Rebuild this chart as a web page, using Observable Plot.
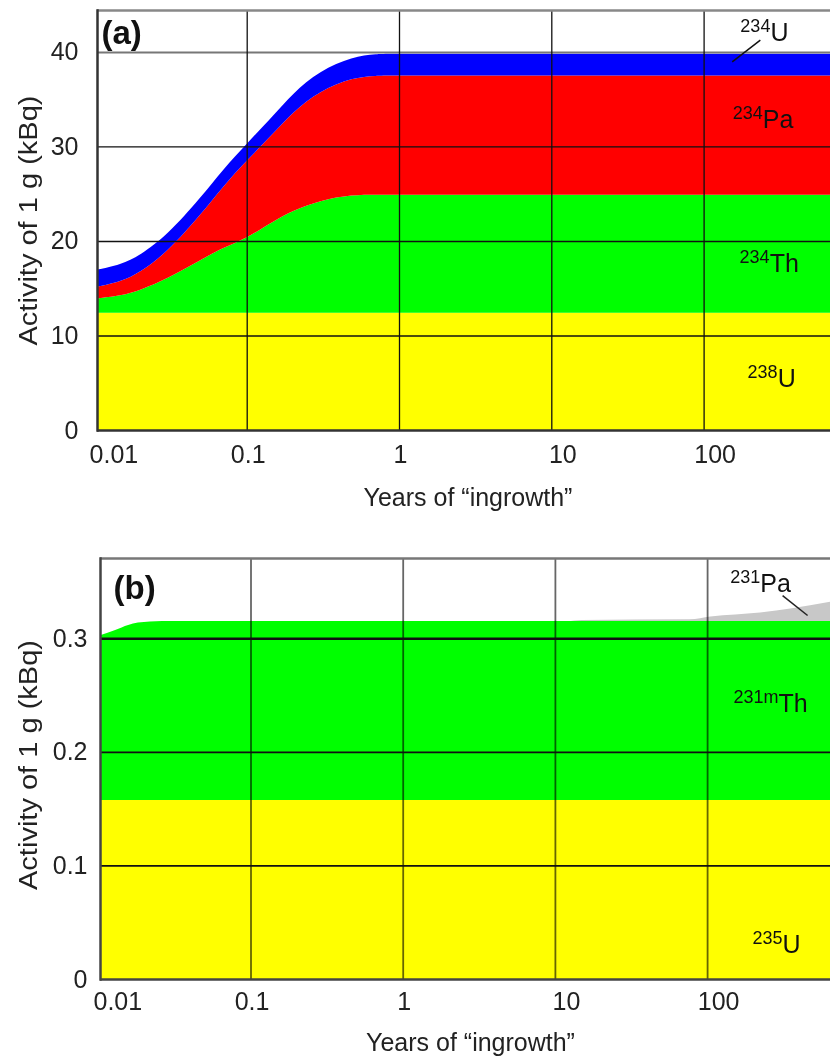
<!DOCTYPE html>
<html>
<head>
<meta charset="utf-8">
<script src="https://cdn.jsdelivr.net/npm/d3@7"></script>
<script src="https://cdn.jsdelivr.net/npm/@observablehq/plot@0.6"></script>
<style>
  html, body { margin: 0; padding: 0; background: #fff; }
  svg { display: block; }
</style>
</head>
<body>
<div id="chart"></div>
<script>
// ---------- Panel (a): 238U series ----------
const yearsA = [0.01, 0.015, 0.02, 0.03, 0.05, 0.07, 0.1, 0.15, 0.2, 0.3, 0.5, 0.7, 1, 10, 100, 1000];
const namesA = ["238U", "234Th", "234Pa", "234U"];
const a_U238  = [12.4, 12.4, 12.4, 12.4, 12.4, 12.4, 12.4, 12.4, 12.4, 12.4, 12.4, 12.4, 12.4, 12.4, 12.4, 12.4];
const a_Th234 = [1.5, 1.8, 2.4, 3.6, 5.6, 6.9, 7.9, 9.7, 10.8, 11.9, 12.5, 12.5, 12.5, 12.5, 12.5, 12.5];
const a_Pa234 = [1.2, 1.5, 1.9, 2.8, 4.8, 6.5, 8.2, 9.3, 10.4, 11.6, 12.4, 12.6, 12.6, 12.6, 12.6, 12.6];
const a_U234  = [1.8, 1.8, 1.8, 1.8, 1.8, 1.8, 1.8, 1.9, 2.0, 2.1, 2.2, 2.3, 2.3, 2.3, 2.3, 2.3];
const colorsA = ["#ffff00", "#00ff00", "#ff0000", "#0000ff"];
const yTicksA = [0, 10, 20, 30, 40];

// ---------- Panel (b): 235U series ----------
const yearsB = [0.01, 0.0129, 0.0157, 0.0182, 0.0262, 0.1, 1, 10, 12, 15, 77, 105, 223, 352, 642, 1000];
const namesB = ["235U", "231mTh", "231Pa"];
const b_U235  = [0.1576, 0.1576, 0.1576, 0.1576, 0.1576, 0.1576, 0.1576, 0.1576, 0.1576, 0.1576, 0.1576, 0.1576, 0.1576, 0.1576, 0.1576, 0.1576];
const b_Th231 = [0.1445, 0.1498, 0.1542, 0.1562, 0.1576, 0.1576, 0.1576, 0.1576, 0.1576, 0.1576, 0.1576, 0.1576, 0.1576, 0.1576, 0.1576, 0.1576];
const b_Pa231 = [0, 0, 0, 0, 0, 0, 0, 0, 0, 0.001, 0.0015, 0.004, 0.0075, 0.011, 0.017, 0.022];
const colorsB = ["#ffff00", "#00ff00", "#c8c8c8"];
const yTicksB = [0, 0.1, 0.2, 0.3];

const xTicks = [0.01, 0.1, 1, 10, 100];
const xTickLabels = ["0.01", "0.1", "1", "10", "100"];
const xTitle = "Years of \u201cingrowth\u201d";
const yTitle = "Activity of 1 g (kBq)";

const FONT = "Liberation Sans, Arial, Helvetica, sans-serif";
const FS = 25;

function longTable(years, names, series) {
  const rows = [];
  names.forEach((n, k) => years.forEach((x, i) => rows.push({year: x, nuclide: n, activity: series[k][i]})));
  return rows;
}

const rowsA = longTable(yearsA, namesA, [a_U238, a_Th234, a_Pa234, a_U234]);
const rowsB = longTable(yearsB, namesB, [b_U235, b_Th231, b_Pa231]);

function tickLabelMarks(dy) {
  const idx = xTicks.map((d, i) => i);
  const common = {x: i => xTicks[i], text: i => xTickLabels[i], frameAnchor: "bottom", lineAnchor: "middle", dy, fontSize: FS, fill: "#222"};
  return [
    Plot.text(idx.filter(i => xTicks[i] === 0.01), {...common, dx: 19}),
    Plot.text(idx.filter(i => xTicks[i] === 0.1 || xTicks[i] === 1), {...common, dx: 1}),
    Plot.text(idx.filter(i => xTicks[i] >= 10), {...common, dx: 11})
  ];
}

const yTopA = 44.44;
const plotA = Plot.plot({
  width: 830, height: 530,
  marginTop: 10, marginBottom: 100, marginLeft: 97, marginRight: 0,
  style: {fontFamily: FONT, background: "#fff"},
  x: {type: "log", domain: [0.0104, 676], axis: null},
  y: {domain: [0, yTopA], axis: null},
  color: {domain: namesA, range: colorsA},
  marks: [
    Plot.areaY(rowsA, {x: "year", y: "activity", z: "nuclide", fill: "nuclide", order: namesA, curve: "basis", clip: true}),
    Plot.ruleY([10, 20, 30], {stroke: "#111", strokeWidth: 1.3}),
    Plot.ruleY([40], {stroke: "#777", strokeWidth: 2}),
    Plot.ruleX([0.1, 1, 10, 100], {stroke: "#111", strokeWidth: 1.3}),
    Plot.ruleY([yTopA], {stroke: "#888", strokeWidth: 2.5}),
    Plot.frame({anchor: "left", stroke: "#333", strokeWidth: 2.5}),
    Plot.ruleY([0], {stroke: "#333", strokeWidth: 2.5}),
    Plot.text(yTicksA, {y: d => d, text: d => String(d), frameAnchor: "left", textAnchor: "end", dx: -19, fontSize: FS, fill: "#222"}),
    ...tickLabelMarks(24),
    Plot.text([xTitle], {frameAnchor: "bottom", lineAnchor: "middle", dy: 67, dx: 4, fontSize: FS, fill: "#222"}),
    Plot.text([yTitle], {frameAnchor: "left", lineAnchor: "middle", textAnchor: "start", rotate: -90, dx: -69, dy: 125, fontSize: FS, fill: "#222"}),
    Plot.text(["(a)"], {frameAnchor: "top-left", textAnchor: "start", lineAnchor: "middle", dx: 4, dy: 23, fontSize: 33, fontWeight: "bold", fill: "#111"}),
    Plot.link([{x1: 234, y1: 41.3, x2: 153, y2: 39.0}], {x1: "x1", y1: "y1", x2: "x2", y2: "y2", stroke: "#111", strokeWidth: 1.5}),
    Plot.text([
      {x: 173, y: 42.1, t: "234|U"},
      {x: 154, y: 32.9, t: "234|Pa"},
      {x: 171, y: 17.6, t: "234|Th"},
      {x: 193, y: 5.5, t: "238|U"}
    ], {x: "x", y: "y", text: "t", textAnchor: "start", fontSize: FS, fill: "#111"})
  ]
});

const yTopB = 0.3707;
const plotB = Plot.plot({
  width: 830, height: 529,
  marginTop: 28, marginBottom: 80, marginLeft: 100, marginRight: 0,
  style: {fontFamily: FONT, background: "#fff"},
  x: {type: "log", domain: [0.01026, 642], axis: null},
  y: {domain: [0, yTopB], axis: null},
  color: {domain: namesB, range: colorsB},
  marks: [
    Plot.areaY(rowsB, {x: "year", y: "activity", z: "nuclide", fill: "nuclide", order: namesB, curve: "monotone-x", clip: true}),
    Plot.ruleX([0.1, 1, 10, 100], {stroke: "#666", strokeWidth: 1.8, mixBlendMode: "multiply"}),
    Plot.ruleY([0.1, 0.2], {stroke: "#111", strokeWidth: 1.8}),
    Plot.ruleY([0.3], {stroke: "#111", strokeWidth: 2.5}),
    Plot.ruleY([yTopB], {stroke: "#777", strokeWidth: 2.5}),
    Plot.frame({anchor: "left", stroke: "#444", strokeWidth: 2.5}),
    Plot.ruleY([0], {stroke: "#444", strokeWidth: 2.5}),
    Plot.text(yTicksB, {y: d => d, text: d => String(d), frameAnchor: "left", textAnchor: "end", dx: -13, fontSize: FS, fill: "#222"}),
    ...tickLabelMarks(22),
    Plot.text([xTitle], {frameAnchor: "bottom", lineAnchor: "middle", dy: 63, dx: 5, fontSize: FS, fill: "#222"}),
    Plot.text([yTitle], {frameAnchor: "left", lineAnchor: "middle", textAnchor: "start", rotate: -90, dx: -72, dy: 121, fontSize: FS, fill: "#222"}),
    Plot.text(["(b)"], {frameAnchor: "top-left", textAnchor: "start", lineAnchor: "middle", dx: 13, dy: 30, fontSize: 33, fontWeight: "bold", fill: "#111"}),
    Plot.link([{x1: 311, y1: 0.338, x2: 454, y2: 0.3205}], {x1: "x1", y1: "y1", x2: "x2", y2: "y2", stroke: "#222", strokeWidth: 1.5}),
    Plot.text([
      {x: 141, y: 0.348, t: "231|Pa"},
      {x: 148, y: 0.2426, t: "231m|Th"},
      {x: 197, y: 0.030, t: "235|U"}
    ], {x: "x", y: "y", text: "t", textAnchor: "start", fontSize: FS, fill: "#111"})
  ]
});

// Render isotope mass numbers as superscripts; stretch the rotated axis titles
function finish(svg) {
  const ns = "http://www.w3.org/2000/svg";
  svg.querySelectorAll("text").forEach(t => {
    const s = t.textContent;
    if (s === yTitle) {
      t.setAttribute("textLength", "250");
      t.setAttribute("lengthAdjust", "spacingAndGlyphs");
      return;
    }
    if (!s.includes("|")) return;
    const [sup, base] = s.split("|");
    t.textContent = "";
    const a = document.createElementNS(ns, "tspan");
    a.setAttribute("font-size", "18");
    a.setAttribute("dy", "-9");
    a.textContent = sup;
    const b = document.createElementNS(ns, "tspan");
    b.setAttribute("dy", "9");
    b.textContent = base;
    t.append(a, b);
  });
}
finish(plotA);
finish(plotB);

const chart = document.getElementById("chart");
chart.append(plotA, plotB);
</script>
</body>
</html>
